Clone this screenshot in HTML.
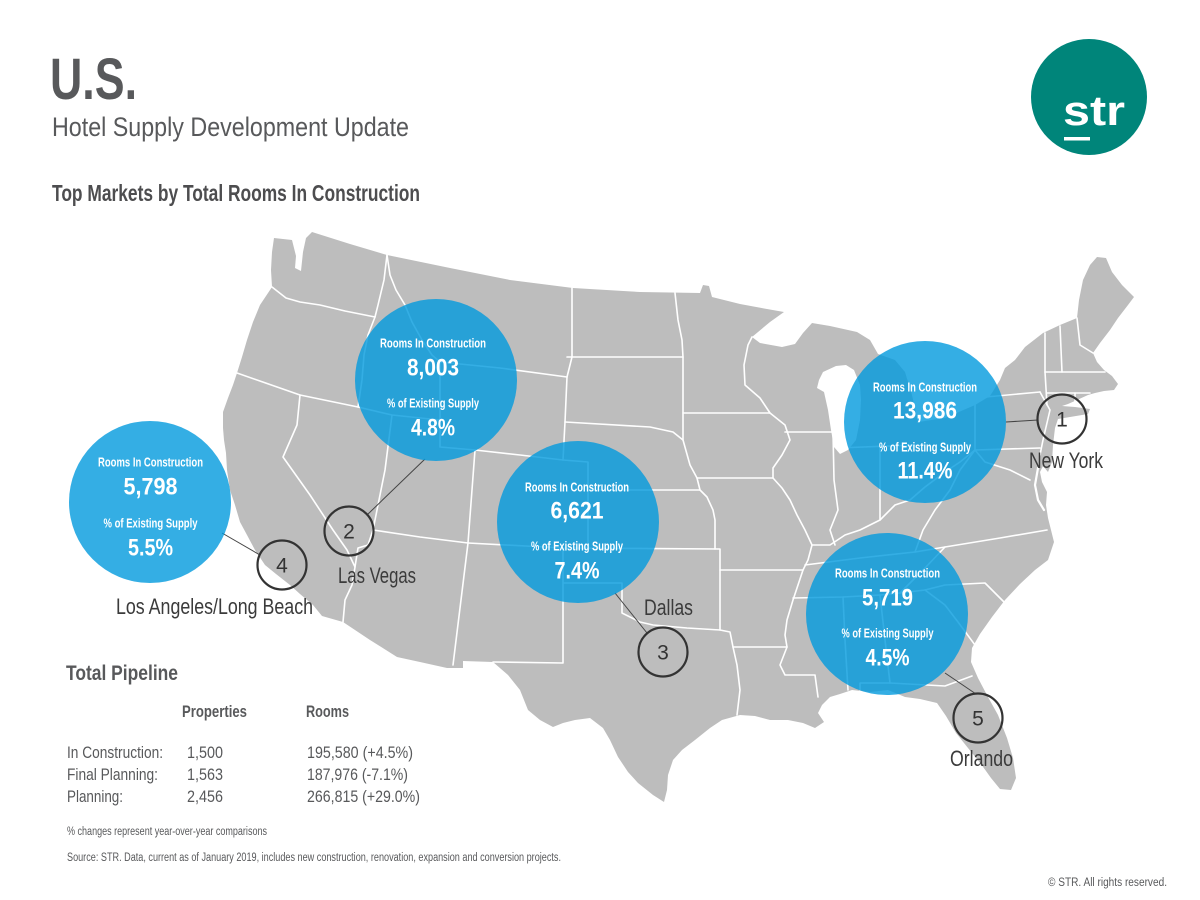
<!DOCTYPE html>
<html>
<head>
<meta charset="utf-8">
<style>
  html,body{margin:0;padding:0;background:#fff;}
  svg{display:block;}
  text{font-family:"Liberation Sans", Arial, sans-serif;}
</style>
</head>
<body>
<svg width="1200" height="900" viewBox="0 0 1200 900" xmlns="http://www.w3.org/2000/svg">
  <rect width="1200" height="900" fill="#ffffff"/>

  <!-- Header -->
  <text x="50" y="99" font-size="58" font-weight="bold" fill="#58595b" textLength="87" lengthAdjust="spacingAndGlyphs">U.S.</text>
  <text x="52" y="136" font-size="27" fill="#58595b" textLength="357" lengthAdjust="spacingAndGlyphs">Hotel Supply Development Update</text>
  <text x="52" y="201" font-size="23" font-weight="bold" fill="#4d4d4f" textLength="368" lengthAdjust="spacingAndGlyphs">Top Markets by Total Rooms In Construction</text>

  <!-- Logo -->
  <circle cx="1089" cy="97" r="58" fill="#00857a"/>
  <text x="1063" y="125" font-size="42" font-weight="bold" fill="#ffffff" textLength="62" lengthAdjust="spacingAndGlyphs">str</text>
  <rect x="1064" y="137" width="26" height="3.5" fill="#ffffff"/>

  <!-- Map outline -->
  <path fill="#bdbdbd" stroke="none" d="M274,238 L292,240 L296,256 L295,268 L301,271 L303,252 L306,238 L312,232 L350,244 L387,255 L450,268 L510,280 L573,288 L640,292 L700,293 L703,285 L709,286 L712,297 L740,304 L767,309 L784,312 L770,322 L752,337 L760,343 L782,347 L795,344 L803,333 L812,323 L830,326 L857,332 L870,340 L878,354 L895,360 L905,372 L912,395 L918,422 L945,418 L975,405 L990,396 L1000,380 L1005,368 L1015,360 L1025,347 L1043,333 L1060,325 L1077,318 L1079,300 L1083,280 L1090,265 L1097,257 L1106,258 L1112,272 L1122,285 L1134,297 L1128,305 L1118,318 L1110,330 L1100,343 L1093,353 L1097,362 L1104,370 L1112,376 L1118,384 L1114,390 L1104,391 L1095,393 L1088,395 L1077,400 L1068,404 L1062,406 L1075,407 L1090,409 L1088,414 L1070,417 L1058,419 L1055,428 L1053,445 L1052,462 L1048,472 L1043,466 L1040,472 L1042,482 L1047,492 L1046,505 L1048,518 L1051,530 L1054,542 L1048,560 L1035,570 L1020,584 L1005,600 L992,617 L980,634 L972,648 L971,662 L978,678 L988,697 L998,715 L1007,738 L1013,758 L1016,778 L1011,790 L1000,789 L991,778 L981,764 L968,748 L956,733 L946,716 L937,703 L920,699 L905,697 L888,690 L870,692 L852,690 L840,694 L830,697 L822,705 L818,713 L824,722 L815,728 L803,723 L788,720 L770,720 L755,716 L740,715 L722,720 L710,728 L695,740 L682,750 L673,760 L668,775 L667,790 L664,802 L653,795 L638,783 L628,772 L618,757 L610,740 L603,728 L590,718 L575,720 L563,723 L553,727 L540,720 L528,710 L520,690 L508,675 L493,662 L463,661 L463,668 L447,668 L420,662 L397,657 L370,640 L343,622 L322,616 L313,605 L300,594 L290,585 L276,574 L265,565 L255,550 L247,535 L240,522 L235,505 L230,490 L227,470 L226,453 L224,440 L223,428 L223,412 L228,398 L233,385 L237,373 L242,357 L247,340 L253,322 L260,305 L268,293 L272,287 L271,270 L272,252 Z"/>

  <!-- Lake Michigan -->
  <path fill="#ffffff" d="M823,372 L819,380 L817,388 L824,392 L828,410 L831,430 L834,447 L840,454 L848,450 L856,440 L860,420 L861,400 L860,385 L854,370 L846,365 L836,366 Z"/>

  <!-- State borders -->
  <g fill="none" stroke="#ffffff" stroke-width="1.6" stroke-linejoin="round" stroke-linecap="round">
    <path d="M272,287 L286,298 L300,302 L320,305 L345,311 L375,317"/>
    <path d="M387,255 L384,280 L378,305 L375,317 L368,335 L364,355 L362,380 L358,407"/>
    <path d="M237,373 L300,395 L358,407 L392,415 L440,420"/>
    <path d="M300,395 L297,425 L283,457 L310,495 L333,530 L347,550 L355,567 L352,585 L345,600 L343,622"/>
    <path d="M392,415 L385,470 L373,530 L368,545 L358,548 L355,567"/>
    <path d="M387,255 L390,275 L396,290 L405,305 L412,322 L422,340 L432,355 L440,362 L440,447 L475,450"/>
    <path d="M440,362 L500,368 L567,377"/>
    <path d="M475,450 L520,455 L563,460 L588,462 L588,490 L700,490"/>
    <path d="M588,490 L588,548"/>
    <path d="M468,543 L475,450"/>
    <path d="M373,530 L420,537 L468,543 L453,665"/>
    <path d="M468,543 L563,548 L720,549 L720,630"/>
    <path d="M563,548 L563,663 L493,662"/>
    <path d="M563,583 L622,583 L622,613 L640,622 L653,625 L687,628 L720,630 L730,632 L733,647 L737,665 L740,690 L737,715"/>
    <path d="M720,570 L803,570"/>
    <path d="M733,647 L787,647"/>
    <path d="M770,413 L785,425 L790,440 L782,455 L773,468 L773,478 L782,488 L790,500 L797,515 L805,530 L812,545 L808,560 L803,570 L798,585 L793,600 L787,620 L785,635 L787,647 L780,665 L785,675 L815,675 L818,697"/>
    <path d="M752,337 L748,345 L744,365 L745,385 L760,398 L770,413"/>
    <path d="M785,432 L833,432"/>
    <path d="M683,413 L770,413"/>
    <path d="M697,478 L773,478"/>
    <path d="M567,357 L683,357"/>
    <path d="M572,288 L572,357 L567,377 L565,422 L563,460"/>
    <path d="M675,293 L678,320 L682,340 L683,357 L683,440"/>
    <path d="M565,422 L650,427 L673,432 L683,440 L690,465 L697,478 L700,490 L707,497 L713,510 L715,520 L715,549"/>
    <path d="M833,432 L834,480 L838,510 L830,530 L835,545"/>
    <path d="M880,448 L880,520"/>
    <path d="M838,448 L915,445"/>
    <path d="M812,545 L830,545 L845,535 L860,530 L880,520 L895,505 L910,500 L925,487 L945,472 L960,462 L975,450"/>
    <path d="M975,398 L975,450"/>
    <path d="M975,398 L1040,392"/>
    <path d="M1040,392 L1050,410 L1043,440 L1040,455"/>
    <path d="M975,450 L1040,448"/>
    <path d="M975,450 L985,462 L1010,470 L1030,480"/>
    <path d="M975,450 L960,470 L950,490 L935,510 L923,530 L915,552"/>
    <path d="M805,565 L860,558 L915,552 L945,547 L1000,538 L1047,530"/>
    <path d="M945,547 L925,568 L900,593"/>
    <path d="M793,598 L843,597 L880,595 L900,593"/>
    <path d="M900,593 L925,590 L945,585 L985,583 L1005,603"/>
    <path d="M925,590 L945,605 L958,622 L975,645"/>
    <path d="M843,597 L845,640 L848,690"/>
    <path d="M880,595 L885,640 L890,683"/>
    <path d="M860,690 L860,683 L890,683 L945,686 L972,676"/>
    <path d="M1045,333 L1045,372 L1047,405"/>
    <path d="M1060,326 L1062,372"/>
    <path d="M1077,318 L1080,345 L1093,353"/>
    <path d="M1045,372 L1105,372"/>
    <path d="M1047,393 L1090,393"/>
    <path d="M1075,393 L1075,405"/>
    <path d="M1038,468 L1035,485 L1038,500 L1044,510" stroke-width="2.2"/>
  </g>

  <!-- Connector lines -->
  <g stroke="#444" stroke-width="1" fill="none">
    <line x1="222" y1="533" x2="260" y2="555"/>
    <line x1="425" y1="459" x2="367" y2="515"/>
    <line x1="615" y1="593" x2="647" y2="633"/>
    <line x1="1006" y1="422" x2="1038" y2="420"/>
    <line x1="945" y1="673" x2="976" y2="694"/>
  </g>

  <!-- Bubbles -->
  <g fill="rgb(1,154,221)" fill-opacity="0.8">
    <circle cx="150" cy="502" r="81"/>
    <circle cx="436" cy="380" r="81"/>
    <circle cx="578" cy="522" r="81"/>
    <circle cx="925" cy="422" r="81"/>
    <circle cx="887" cy="614" r="81"/>
  </g>

  <g fill="#ffffff" font-weight="bold" text-anchor="middle">
    <!-- LA -->
    <text x="150.5" y="466.5" font-size="12.5" textLength="105" lengthAdjust="spacingAndGlyphs">Rooms In Construction</text>
    <text x="150.5" y="494.5" font-size="24" textLength="54" lengthAdjust="spacingAndGlyphs">5,798</text>
    <text x="150.5" y="527.5" font-size="12.5" textLength="94" lengthAdjust="spacingAndGlyphs">% of Existing Supply</text>
    <text x="150.5" y="555.5" font-size="24" textLength="45" lengthAdjust="spacingAndGlyphs">5.5%</text>
    <!-- Vegas -->
    <text x="433" y="347.5" font-size="12.5" textLength="106" lengthAdjust="spacingAndGlyphs">Rooms In Construction</text>
    <text x="433" y="375.5" font-size="24" textLength="52" lengthAdjust="spacingAndGlyphs">8,003</text>
    <text x="433" y="407.5" font-size="12.5" textLength="92" lengthAdjust="spacingAndGlyphs">% of Existing Supply</text>
    <text x="433" y="435.5" font-size="24" textLength="44" lengthAdjust="spacingAndGlyphs">4.8%</text>
    <!-- Dallas -->
    <text x="577" y="491.5" font-size="12.5" textLength="104" lengthAdjust="spacingAndGlyphs">Rooms In Construction</text>
    <text x="577" y="518.5" font-size="24" textLength="53" lengthAdjust="spacingAndGlyphs">6,621</text>
    <text x="577" y="550.5" font-size="12.5" textLength="92" lengthAdjust="spacingAndGlyphs">% of Existing Supply</text>
    <text x="577" y="578.5" font-size="24" textLength="45" lengthAdjust="spacingAndGlyphs">7.4%</text>
    <!-- NY -->
    <text x="925" y="391.5" font-size="12.5" textLength="104" lengthAdjust="spacingAndGlyphs">Rooms In Construction</text>
    <text x="925" y="418.5" font-size="24" textLength="64" lengthAdjust="spacingAndGlyphs">13,986</text>
    <text x="925" y="451.5" font-size="12.5" textLength="92" lengthAdjust="spacingAndGlyphs">% of Existing Supply</text>
    <text x="925" y="478.5" font-size="24" textLength="55" lengthAdjust="spacingAndGlyphs">11.4%</text>
    <!-- Orlando -->
    <text x="887.5" y="577.5" font-size="12.5" textLength="105" lengthAdjust="spacingAndGlyphs">Rooms In Construction</text>
    <text x="887.5" y="605.5" font-size="24" textLength="51" lengthAdjust="spacingAndGlyphs">5,719</text>
    <text x="887.5" y="637.5" font-size="12.5" textLength="92" lengthAdjust="spacingAndGlyphs">% of Existing Supply</text>
    <text x="887.5" y="665.5" font-size="24" textLength="44" lengthAdjust="spacingAndGlyphs">4.5%</text>
  </g>

  <!-- Number circles -->
  <g fill="none" stroke="#333" stroke-width="2.2">
    <circle cx="1062" cy="419" r="24.5"/>
    <circle cx="349" cy="531" r="24.5"/>
    <circle cx="663" cy="652" r="24.5"/>
    <circle cx="282" cy="565" r="24.5"/>
    <circle cx="978" cy="718" r="24.5"/>
  </g>
  <g fill="#333" font-size="21" text-anchor="middle">
    <text x="1062" y="426.5">1</text>
    <text x="349" y="538.5">2</text>
    <text x="663" y="659.5">3</text>
    <text x="282" y="572.5">4</text>
    <text x="978" y="725.5">5</text>
  </g>

  <!-- Market labels -->
  <g fill="#3b3b3b" font-size="22">
    <text x="116" y="614" textLength="197" lengthAdjust="spacingAndGlyphs">Los Angeles/Long Beach</text>
    <text x="338" y="583" textLength="78" lengthAdjust="spacingAndGlyphs">Las Vegas</text>
    <text x="644" y="615" textLength="49" lengthAdjust="spacingAndGlyphs">Dallas</text>
    <text x="1029" y="468" textLength="74" lengthAdjust="spacingAndGlyphs">New York</text>
    <text x="950" y="766" textLength="63" lengthAdjust="spacingAndGlyphs">Orlando</text>
  </g>

  <!-- Total Pipeline -->
  <text x="66" y="680" font-size="21" font-weight="bold" fill="#58595b" textLength="112" lengthAdjust="spacingAndGlyphs">Total Pipeline</text>
  <text x="182" y="717" font-size="16.5" font-weight="bold" fill="#58595b" textLength="65" lengthAdjust="spacingAndGlyphs">Properties</text>
  <text x="306" y="717" font-size="16.5" font-weight="bold" fill="#58595b" textLength="43" lengthAdjust="spacingAndGlyphs">Rooms</text>

  <g fill="#58595b" font-size="17">
    <text x="67" y="758" textLength="96" lengthAdjust="spacingAndGlyphs">In Construction:</text>
    <text x="187" y="758" textLength="36" lengthAdjust="spacingAndGlyphs">1,500</text>
    <text x="307" y="758" textLength="106" lengthAdjust="spacingAndGlyphs">195,580 (+4.5%)</text>
    <text x="67" y="780" textLength="91" lengthAdjust="spacingAndGlyphs">Final Planning:</text>
    <text x="187" y="780" textLength="36" lengthAdjust="spacingAndGlyphs">1,563</text>
    <text x="307" y="780" textLength="101" lengthAdjust="spacingAndGlyphs">187,976 (-7.1%)</text>
    <text x="67" y="802" textLength="56" lengthAdjust="spacingAndGlyphs">Planning:</text>
    <text x="187" y="802" textLength="36" lengthAdjust="spacingAndGlyphs">2,456</text>
    <text x="307" y="802" textLength="113" lengthAdjust="spacingAndGlyphs">266,815 (+29.0%)</text>
  </g>

  <g fill="#58595b" font-size="11.5">
    <text x="67" y="835" textLength="200" lengthAdjust="spacingAndGlyphs">% changes represent year-over-year comparisons</text>
    <text x="67" y="861" textLength="494" lengthAdjust="spacingAndGlyphs">Source: STR. Data, current as of January 2019, includes new construction, renovation, expansion and conversion projects.</text>
    <text x="1048" y="886" textLength="119" lengthAdjust="spacingAndGlyphs">© STR. All rights reserved.</text>
  </g>
</svg>
</body>
</html>
